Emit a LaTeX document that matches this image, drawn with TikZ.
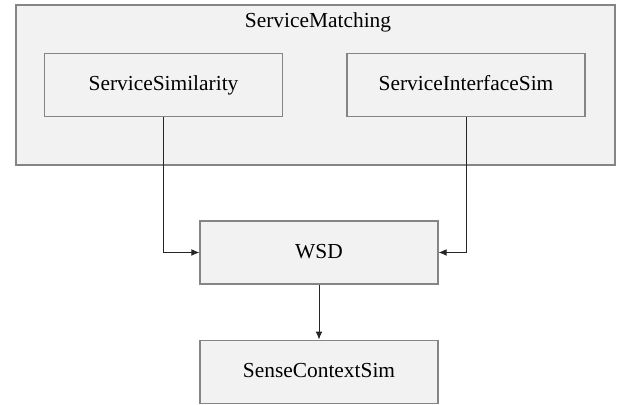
\documentclass[tikz,border=0pt]{standalone}
\usepackage{fontspec}
\setmainfont{Liberation Serif}
\usetikzlibrary{arrows.meta, positioning}

\definecolor{boxfill}{HTML}{F2F2F2}
\definecolor{boxline}{HTML}{858585}

\begin{document}
\begin{tikzpicture}[
    x=0.5pt, y=-0.5pt,
    every node/.style={font=\fontsize{10.7}{13}\selectfont, text height=1.6ex, text depth=0.4ex},
    box/.style={draw=boxline, line width=0.6pt, rectangle, fill=boxfill, minimum width=119pt, minimum height=31.5pt},
    group/.style={draw=boxline, line width=0.6pt, rectangle, fill=boxfill, minimum width=299.5pt, minimum height=80pt},
    arrow/.style={-{Latex[length=4pt, width=3.4pt]}, line width=0.5pt, black!85}
]
\useasboundingbox (0,0) rectangle (623,405);

\node[group] (match) at (315.5,85) {};
\node[draw=none, fill=none] (title) at (318,22) {ServiceMatching};
\node[box] (sim) at (163.5,85) {ServiceSimilarity};
\node[box] (isim) at (466,85) {ServiceInterfaceSim};
\node[box] (wsd) at (319,252.5) {WSD};
\node[box, below=27.5pt of wsd] (scs) {SenseContextSim};

\draw[arrow] (sim.south) |- (wsd.west);
\draw[arrow] (isim.south) |- (wsd.east);
\draw[arrow] (wsd) -- (scs);

\end{tikzpicture}
\end{document}
